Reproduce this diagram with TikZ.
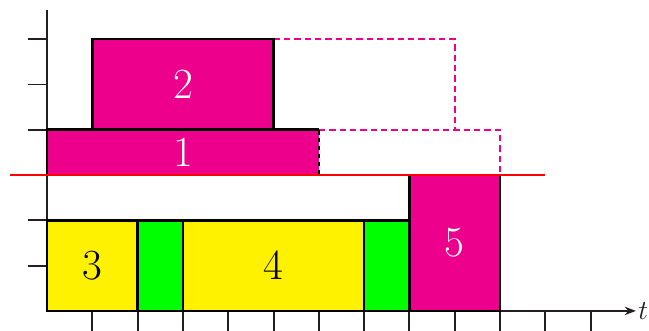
\documentclass[tikz,border=0pt]{standalone}
\usetikzlibrary{arrows.meta}
\definecolor{jobpink}{HTML}{EC008C}
\definecolor{jobyellow}{HTML}{FFF200}
\definecolor{jobgreen}{HTML}{00FF00}
\definecolor{limitred}{HTML}{FF0000}
\definecolor{axiscolor}{HTML}{231F20}

\begin{document}
\begin{tikzpicture}[
    box/.style={draw=black, line width=1.6pt},
    ghost/.style={draw=jobpink, line width=1.3pt, dash pattern=on 4pt off 2.5pt},
    num/.style={font=\fontsize{27}{30}\selectfont},
    wnum/.style={num, text=white},
]
\useasboundingbox (-1.04,-0.44) rectangle (13.29,6.865);

% ---------------------------------------------------------------- axes
\coordinate (O) at (0,0);
\coordinate (xend) at (13,0);
\coordinate (yend) at (0,6.64);
\draw[axiscolor, line width=1.2pt, -{Stealth[length=7pt]}] (O) -- (xend)
    node[anchor=west, font=\LARGE, inner sep=1pt] (tlab) {$t$};
\draw[axiscolor, line width=1.2pt] (O) -- (yend);
\foreach \x in {1,...,12}{
    \draw[axiscolor, line width=1.2pt] (\x,0) -- (\x,-0.44);
}
\foreach \y in {1,...,6}{
    \draw[axiscolor, line width=1.2pt] (-0.42,\y) -- (0,\y);
}

% ---------------------------------------------------------------- lower jobs
\filldraw[box, fill=jobyellow] (0,0) rectangle (2,2);
\filldraw[box, fill=jobgreen] (2,0) rectangle (3,2);
\filldraw[box, fill=jobyellow] (3,0) rectangle (7,2);
\filldraw[box, fill=jobgreen] (7,0) rectangle (8,2);
\filldraw[box, fill=jobpink] (8,0) rectangle (10,3);
\node[num] (j3) at (1,1) {3};
\node[num] (j4) at (5,1) {4};
\node[wnum] (j5) at (9,1.5) {5};

% ---------------------------------------------------------------- upper jobs
\draw[ghost] (6,4) -- (10,4) -- (10,3);
\draw[ghost] (5,6) -- (9,6) -- (9,4);
\fill[jobpink] (0,3) rectangle (6,4);
\draw[box] (6,3) -- (0,3) -- (0,4) -- (6,4);
\draw[black, line width=1.6pt, dash pattern=on 3pt off 2pt] (6,4) -- (6,3);
\filldraw[box, fill=jobpink] (1,4) rectangle (5,6);
\node[wnum] (j1) at (3,3.5) {1};
\node[wnum] (j2) at (3,5) {2};

% ---------------------------------------------------------------- limit
\coordinate (lim1) at (-0.82,3);
\coordinate (lim2) at (11,3);
\draw[limitred, line width=1.7pt] (lim1) -- (lim2);

\end{tikzpicture}
\end{document}
